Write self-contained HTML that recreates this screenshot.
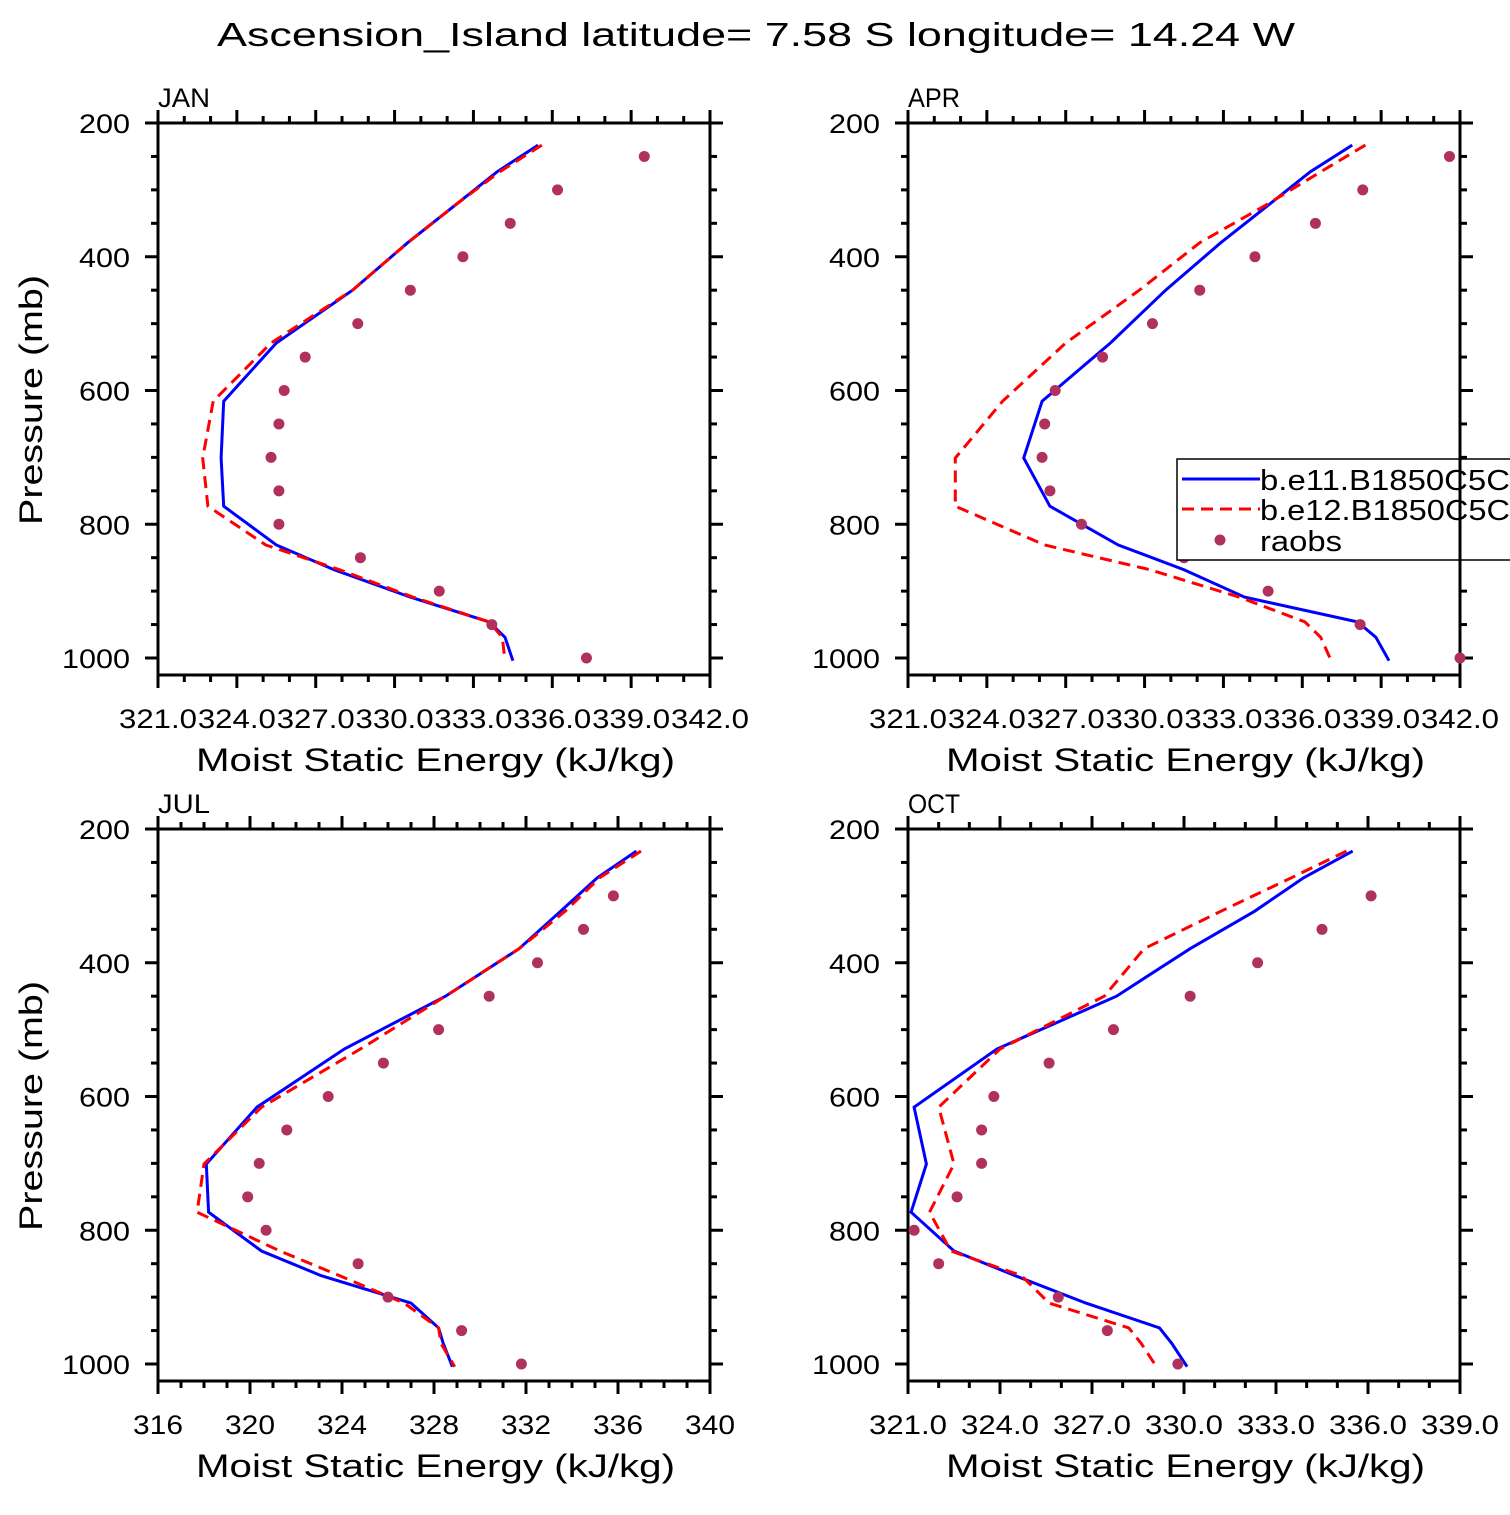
<!DOCTYPE html>
<html><head><meta charset="utf-8"><style>
html,body{margin:0;padding:0;background:#fff;overflow:hidden;}
svg text{font-family:"Liberation Sans",sans-serif;fill:#000;}
</style></head><body>
<svg id="chart" width="1510" height="1510" xmlns="http://www.w3.org/2000/svg">
<text x="217" y="46" font-size="33" textLength="1078" lengthAdjust="spacingAndGlyphs">Ascension_Island  latitude= 7.58 S longitude= 14.24 W</text>
</svg>
<script>
const levels=[233,273,323,379,450,529,616,701,773,831,868,909,946,969,1004];
const obsLevels=[250,300,350,400,450,500,550,600,650,700,750,800,850,900,950,1000];
const janBlue=[335.46,333.9,332.3,330.5,328.4,325.5,323.5,323.4,323.5,325.5,327.7,330.6,333.6,334.2,334.5];
const janRed=[335.6,334.0,332.3,330.5,328.4,325.3,323.1,322.7,322.9,325.1,327.9,330.7,333.6,334.1,334.2];
const janObs=[339.5,336.2,334.4,332.6,330.6,328.6,326.6,325.8,325.6,325.3,325.6,325.6,328.7,331.7,333.7,337.3];
const aprBlue=[337.9,336.3,334.7,332.9,330.8,328.7,326.1,325.4,326.4,329.0,331.5,333.8,338.1,338.8,339.3];
const aprRed=[338.4,336.7,334.6,332.1,329.8,327.0,324.6,322.8,322.8,326.2,330.2,333.6,336.1,336.7,337.1];
const aprObs=[341.6,338.3,336.5,334.2,332.1,330.3,328.4,326.6,326.2,326.1,326.4,327.6,331.5,334.7,338.2,342.0];
const julBlue=[336.8,335.1,333.5,331.7,328.5,324.1,320.3,318.1,318.2,320.5,323.1,327.0,328.2,328.4,328.8];
const julRed=[337.0,335.2,333.7,331.7,328.5,324.8,320.5,318.0,317.7,321.3,323.9,326.7,328.2,328.3,328.9];
const julObs=[null,335.8,334.5,332.5,330.4,328.2,325.8,323.4,321.6,320.4,319.9,320.7,324.7,326.0,329.2,331.8];
const octBlue=[335.5,333.9,332.3,330.2,327.8,323.9,321.2,321.6,321.1,322.5,324.5,326.8,329.2,329.6,330.1];
const octRed=[335.3,333.5,331.2,328.7,327.4,324.0,322.0,322.5,321.7,322.4,324.7,325.6,328.2,328.6,329.1];
const octObs=[null,336.1,334.5,332.4,330.2,327.7,325.6,323.8,323.4,323.4,322.6,321.2,322.0,325.9,327.5,329.8];
const yTicks=[200,400,600,800,1000];

const NS='http://www.w3.org/2000/svg';
const svg=document.getElementById('chart');
function mk(tag,attrs,parent){const e=document.createElementNS(NS,tag);for(const k in attrs)e.setAttribute(k,attrs[k]);(parent||svg).appendChild(e);return e;}

function panel(o){
  const g=mk('g',{});
  
  
  const L=o.x0,R=o.x0+552,T=o.y0,B=o.y0+552;
  const sx=v=>L+(v-o.xmin)/(o.xmax-o.xmin)*552;
  const sy=p=>T+(p-200)*535/800;
  for(let v=o.xmin;v<=o.xmax+1e-6;v+=o.minor){
    const major=Math.abs(((v-o.xmin)/o.major)-Math.round((v-o.xmin)/o.major))<1e-6;
    const len=major?13:7;
    mk('line',{x1:sx(v),x2:sx(v),y1:B,y2:B+len,stroke:'#000','stroke-width':3},g);
    mk('line',{x1:sx(v),x2:sx(v),y1:T,y2:T-len,stroke:'#000','stroke-width':3},g);
    if(major){const s=o.fmt(v);const t=mk('text',{x:sx(v)-o.lw/2,y:B+53,'font-size':27,textLength:o.lw,lengthAdjust:'spacingAndGlyphs'},g);t.textContent=s;
      }
  }
  for(let p=200;p<=1000;p+=50){
    const major=p%200===0;const len=major?13:7;
    mk('line',{x1:L,x2:L-len,y1:sy(p),y2:sy(p),stroke:'#000','stroke-width':3},g);
    mk('line',{x1:R,x2:R+len,y1:sy(p),y2:sy(p),stroke:'#000','stroke-width':3},g);
  }
  yTicks.forEach(p=>{const s=String(p);const w=s.length*17;const t=mk('text',{x:L-28-w,y:sy(p)+10,'font-size':27,textLength:w,lengthAdjust:'spacingAndGlyphs'},g);t.textContent=s;
    });
  const box=mk('rect',{x:L,y:T,width:552,height:552,fill:'none',stroke:'#000','stroke-width':3},g);
  
  const lab=mk('text',{x:L,y:T-16,'font-size':27,textLength:52,lengthAdjust:'spacingAndGlyphs'},g);lab.textContent=o.label;
  
  const xt=mk('text',{x:L+38,y:B+96,'font-size':32,textLength:479,lengthAdjust:'spacingAndGlyphs'},g);xt.textContent='Moist Static Energy (kJ/kg)';
  
  if(o.ylab){const yt=mk('text',{x:-125,y:0,'font-size':32,textLength:250,lengthAdjust:'spacingAndGlyphs',transform:`translate(42,${T+277}) rotate(-90)`},g);yt.textContent='Pressure (mb)';
    }
  const pts=a=>a.map((v,i)=>sx(v).toFixed(1)+','+sy(levels[i]).toFixed(1)).join(' ');
  const b=mk('polyline',{points:pts(o.blue),fill:'none',stroke:'#0000ff','stroke-width':3},g);
  
  const r=mk('polyline',{points:pts(o.red),fill:'none',stroke:'#ff0000','stroke-width':3,'stroke-dasharray':'12,7'},g);
  
  o.obs.forEach((v,i)=>{if(v==null)return;const c=mk('circle',{cx:sx(v),cy:sy(obsLevels[i]),r:5.5,fill:'#b03060'},g);
    });
}
const f1=v=>v.toFixed(1), f0=v=>String(Math.round(v));
panel({name:'jan',label:'JAN',x0:158,y0:123,xmin:321,xmax:342,major:3,minor:1,fmt:f1,lw:78,blue:janBlue,red:janRed,obs:janObs,ylab:true});
panel({name:'apr',label:'APR',x0:908,y0:123,xmin:321,xmax:342,major:3,minor:1,fmt:f1,lw:78,blue:aprBlue,red:aprRed,obs:aprObs});
panel({name:'jul',label:'JUL',x0:158,y0:829,xmin:316,xmax:340,major:4,minor:1,fmt:f0,lw:50,blue:julBlue,red:julRed,obs:julObs,ylab:true});
panel({name:'oct',label:'OCT',x0:908,y0:829,xmin:321,xmax:339,major:3,minor:1,fmt:f1,lw:78,blue:octBlue,red:octRed,obs:octObs});

const lg=mk('g',{});


mk('rect',{x:1177,y:459,width:340,height:101,fill:'#fff',stroke:'#000','stroke-width':1.5},lg);
mk('line',{x1:1182,x2:1260,y1:479,y2:479,stroke:'#0000ff','stroke-width':3},lg);
mk('line',{x1:1182,x2:1260,y1:509,y2:509,stroke:'#ff0000','stroke-width':3,'stroke-dasharray':'12,7'},lg);
mk('circle',{cx:1220,cy:540,r:5.5,fill:'#b03060'},lg);
[['b.e11.B1850C5C',490,250],['b.e12.B1850C5C',520,250],['raobs',551,82]].forEach(([s,y,w])=>{const t=mk('text',{x:1260,y:y,'font-size':29,textLength:w,lengthAdjust:'spacingAndGlyphs'},lg);t.textContent=s;
  });
mk('line',{x1:1460,x2:1460,y1:459,y2:560,stroke:'#000','stroke-width':3},lg);
</script>
</body></html>
